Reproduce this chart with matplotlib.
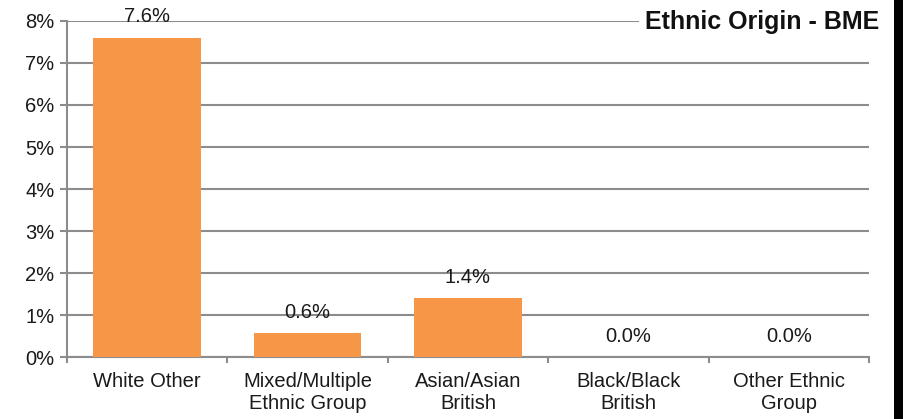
import matplotlib
matplotlib.use("Agg")
import matplotlib.pyplot as plt
from matplotlib.patches import Rectangle

categories = ["White Other", "Mixed/Multiple\nEthnic Group", "Asian/Asian\nBritish",
              "Black/Black\nBritish", "Other Ethnic\nGroup"]
values = [7.6, 0.56, 1.4, 0.0, 0.0]
yticks = [0, 1, 2, 3, 4, 5, 6, 7, 8]
title = "Ethnic Origin - BME"

plt.rcParams["font.family"] = ["Liberation Sans", "DejaVu Sans"]

W, H = 910, 419
fig = plt.figure(figsize=(W / 100, H / 100), dpi=100)
ax = fig.add_axes([67 / W, 1 - 357 / H, (869 - 67) / W, (357 - 21) / H])

grid_col = "#8c8c8c"
bar_col = "#F79646"

x = list(range(len(categories)))
ax.bar(x, values, width=0.67, color=bar_col, zorder=3)
for xi, v in zip(x, values):
    ax.annotate(f"{v:.1f}%", (xi, v), xytext=(0, 15), textcoords="offset points",
                ha="center", va="center", fontsize=14.5, color="#1a1a1a", zorder=4)

ax.set_xlim(-0.5, len(categories) - 0.5)
ax.set_ylim(0, 8)
ax.set_yticks(yticks)
ax.set_yticklabels([f"{t}%" for t in yticks], fontsize=14.5, color="#1a1a1a")
ax.yaxis.grid(True, color=grid_col, linewidth=1.5, zorder=0)
ax.tick_params(axis="y", length=5, width=1.5, color=grid_col, pad=4)

ax.set_xticks(x)
ax.set_xticklabels(categories, fontsize=14.5, color="#1a1a1a", linespacing=1.15)
ax.tick_params(axis="x", which="major", length=0, pad=11)
ax.set_xticks([i - 0.5 for i in range(len(categories) + 1)], minor=True)
ax.tick_params(axis="x", which="minor", length=4, width=1.5, color=grid_col)

for side in ("top", "right"):
    ax.spines[side].set_visible(False)
for side in ("left", "bottom"):
    ax.spines[side].set_color(grid_col)
    ax.spines[side].set_linewidth(1.5)

fig.text(879 / W, 1 - 22 / H, title, ha="right", va="center", fontsize=18,
         fontweight="bold", color="#111111",
         bbox=dict(facecolor="white", edgecolor="none", pad=4), zorder=5)

fig.patches.append(Rectangle((894 / W, 0), 9 / W, 1, transform=fig.transFigure,
                             facecolor="black", edgecolor="none", zorder=6))

fig.savefig("out.png", dpi=100)
